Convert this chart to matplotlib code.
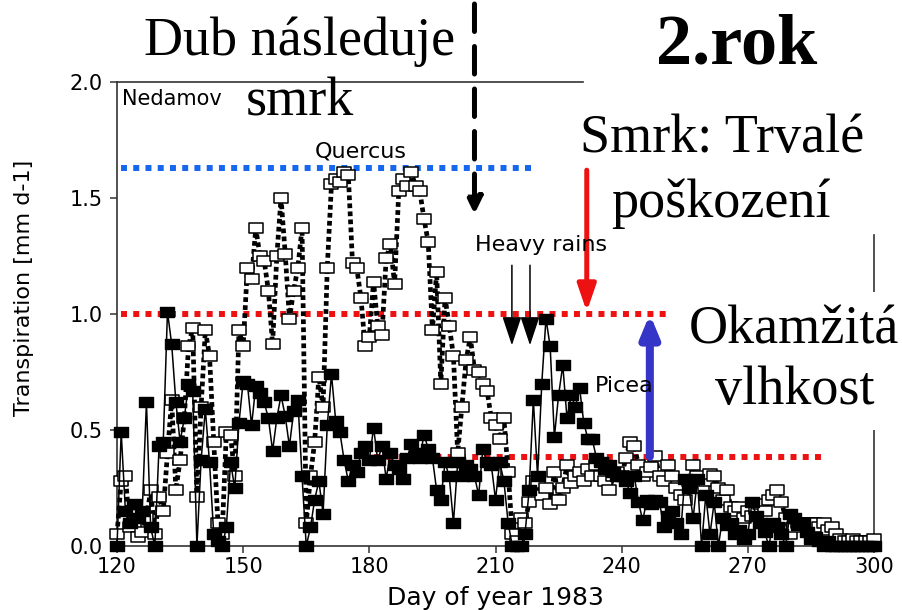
import matplotlib
matplotlib.use('Agg')
import matplotlib.pyplot as plt
from matplotlib.path import Path

# ---------------- data ----------------
days = list(range(120, 301))

quercus = [
    0.05, 0.28, 0.30, 0.08, 0.10, 0.04, 0.06, 0.12, 0.24, 0.05,   # 120-129
    0.21, 0.15, 0.40, 0.63, 0.24, 0.37, 0.55, 0.86, 0.94, 0.21,   # 130-139
    0.60, 0.93, 0.82, 0.45, 0.10, 0.05, 0.49, 0.48, 0.30, 0.93,   # 140-149
    0.86, 1.20, 1.15, 1.37, 1.25, 1.23, 1.10, 0.87, 1.25, 1.50,   # 150-159
    1.26, 0.98, 1.10, 1.20, 1.37, 0.10, 0.30, 0.45, 0.73, 0.60,   # 160-169
    1.20, 1.56, 1.58, 1.57, 1.61, 1.60, 1.22, 1.20, 1.07, 0.86,   # 170-179
    0.90, 1.14, 0.95, 0.91, 1.24, 1.30, 1.13, 1.53, 1.58, 1.55,   # 180-189
    1.61, 1.55, 1.53, 1.41, 1.31, 0.93, 1.18, 0.70, 1.07, 0.95,   # 190-199
    0.82, 0.40, 0.60, 0.80, 0.90, 0.76, 0.75, 0.70, 0.67, 0.55,   # 200-209
    0.52, 0.46, 0.55, 0.32, 0.05, 0.02, 0.12, 0.10, 0.19, 0.28,   # 210-219
    0.27, 0.22, 0.25, 0.18, 0.32, 0.20, 0.25, 0.35, 0.27, 0.30,   # 220-229
    0.32, 0.28, 0.33, 0.30, 0.35, 0.30, 0.28, 0.24, 0.30, 0.32,   # 230-239
    0.30, 0.38, 0.45, 0.43, 0.35, 0.30, 0.32, 0.34, 0.39, 0.30,   # 240-249
    0.28, 0.35, 0.30, 0.25, 0.22, 0.20, 0.28, 0.35, 0.30, 0.25,   # 250-259
    0.28, 0.31, 0.30, 0.25, 0.20, 0.24, 0.17, 0.15, 0.17, 0.12,   # 260-269
    0.15, 0.13, 0.16, 0.18, 0.15, 0.20, 0.22, 0.24, 0.19, 0.12,   # 270-279
    0.05, 0.08, 0.10, 0.10, 0.10, 0.10, 0.10, 0.08, 0.10, 0.07,   # 280-289
    0.08, 0.05, 0.03, 0.02, 0.02, 0.03, 0.02, 0.02, 0.02, 0.02,   # 290-299
    0.03,                                                         # 300
]

picea = [
    0.00, 0.49, 0.15, 0.10, 0.18, 0.12, 0.15, 0.62, 0.08, 0.00,   # 120-129
    0.43, 0.45, 1.01, 0.87, 0.62, 0.45, 0.55, 0.70, 0.67, 0.00,   # 130-139
    0.37, 0.59, 0.36, 0.05, 0.02, 0.00, 0.08, 0.36, 0.25, 0.53,   # 140-149
    0.71, 0.70, 0.52, 0.69, 0.66, 0.62, 0.55, 0.41, 0.55, 0.65,   # 150-159
    0.56, 0.43, 0.58, 0.63, 0.30, 0.00, 0.08, 0.20, 0.28, 0.14,   # 160-169
    0.52, 0.74, 0.54, 0.49, 0.37, 0.28, 0.35, 0.32, 0.40, 0.43,   # 170-179
    0.37, 0.51, 0.37, 0.43, 0.29, 0.40, 0.35, 0.33, 0.29, 0.38,   # 180-189
    0.44, 0.40, 0.38, 0.48, 0.42, 0.38, 0.24, 0.20, 0.36, 0.30,   # 190-199
    0.10, 0.36, 0.30, 0.35, 0.33, 0.30, 0.22, 0.42, 0.36, 0.35,   # 200-209
    0.20, 0.36, 0.28, 0.10, 0.00, 0.00, 0.00, 0.05, 0.24, 0.63,   # 210-219
    0.30, 0.70, 0.98, 0.86, 0.47, 0.65, 0.78, 0.55, 0.65, 0.60,   # 220-229
    0.68, 0.53, 0.46, 0.46, 0.38, 0.36, 0.33, 0.35, 0.32, 0.30,   # 230-239
    0.30, 0.28, 0.23, 0.30, 0.19, 0.11, 0.20, 0.18, 0.20, 0.19,   # 240-249
    0.08, 0.13, 0.15, 0.10, 0.05, 0.29, 0.25, 0.12, 0.29, 0.00,   # 250-259
    0.22, 0.05, 0.19, 0.00, 0.12, 0.09, 0.10, 0.05, 0.07, 0.03,   # 260-269
    0.05, 0.19, 0.13, 0.10, 0.06, 0.00, 0.10, 0.08, 0.05, 0.00,   # 270-279
    0.14, 0.12, 0.09, 0.10, 0.06, 0.03, 0.04, 0.02, 0.00, 0.02,   # 280-289
    0.00, 0.00, 0.00, 0.00, 0.00, 0.00, 0.00, 0.00, 0.00, 0.00,   # 290-299
    0.00,                                                         # 300
]

x_ticks = [120, 150, 180, 210, 240, 270, 300]
y_ticks = [0.0, 0.5, 1.0, 1.5, 2.0]
y_tick_labels = ['0.0', '0.5', '1.0', '1.5', '2.0']

# reference levels drawn as dotted lines: (level, start day, end day)
blue_level = (1.63, 121, 219.5)
red_upper = (1.0, 121, 250.5)
red_lower = (0.385, 178.2, 288)

# arrows
oak_arrow_day = 205          # "Dub nasleduje smrk" dashed arrow
oak_arrow_tip = 1.43
rain_days = [213.9, 218.2]   # heavy rains
rain_top, rain_tip = 1.21, 0.865
red_arrow = (231.7, 1.62, 1.01)    # day, start, tip
blue_arrow = (246.7, 0.385, 1.0)   # day, start, tip

RED = '#ee1111'
BLUE = '#1666ee'
PURPLE = '#3535c8'

# ---------------- figure ----------------
W, H = 902, 610
fig = plt.figure(figsize=(W / 100, H / 100), dpi=100)
ax = fig.add_axes([117 / W, 1 - 546 / H, (874 - 117) / W, (546 - 82) / H])


def fx(px):
    return px / W


def fy(py):
    return 1 - py / H


rect = Path([(-1, -0.68), (1, -0.68), (1, 0.68), (-1, 0.68), (-1, -0.68)],
            [Path.MOVETO, Path.LINETO, Path.LINETO, Path.LINETO, Path.CLOSEPOLY])

# reference lines
for (lvl, d0, d1), col in [(blue_level, BLUE), (red_upper, RED), (red_lower, RED)]:
    ax.plot([d0, d1], [lvl, lvl], color=col, lw=4.3, linestyle=(0, (1, 1.05)),
            solid_capstyle='butt', zorder=2)

# series
ax.plot(days, quercus, color='black', lw=3.4, linestyle=(0, (1, 0.7)),
        marker=rect, ms=10, mfc='white', mec='black', mew=1.1,
        clip_on=False, zorder=3)
ax.plot(days, picea, color='black', lw=1.1, linestyle='-',
        marker=rect, ms=10.5, mfc='black', mec='black', mew=1.0,
        clip_on=False, zorder=4)

ax.set_xlim(120, 300)
ax.set_ylim(0, 2.0)
ax.set_xticks(x_ticks)
ax.set_yticks(y_ticks)
ax.set_yticklabels(y_tick_labels)

for s in ax.spines.values():
    s.set_color('#333333')
    s.set_linewidth(1.2)
ax.spines['top'].set_bounds(120, 230.8)
ax.spines['right'].set_bounds(0, 1.34)

ax.tick_params(axis='both', direction='out', length=5, width=1.1, color='#333333',
               labelsize=15, labelcolor='black')
ax.tick_params(axis='x', pad=3)
ax.tick_params(axis='y', pad=5)
ax.tick_params(top=False, right=False)

ax.set_xlabel('Day of year 1983', fontsize=18, family='DejaVu Sans')
ax.xaxis.label.set_va('baseline')
ax.xaxis.set_label_coords(0.5, (546 - 605) / 464)
ax.set_ylabel('Transpiration [mm d-1]', fontsize=16, family='DejaVu Sans')
ax.yaxis.label.set_va('center')
ax.yaxis.set_label_coords((24 - 117) / 757, (546 - 288) / 464)

# arrows
ax.annotate('', xy=(oak_arrow_day, oak_arrow_tip), xycoords='data',
            xytext=(oak_arrow_day, fy(4)), textcoords=('data', 'figure fraction'),
            arrowprops=dict(arrowstyle='-|>,head_length=10,head_width=4.8', mutation_scale=1,
                            lw=3.6, linestyle=(0, (5.5, 3.0)), color='black',
                            shrinkA=0, shrinkB=0),
            annotation_clip=False)
for d in rain_days:
    ax.annotate('', xy=(d, rain_tip), xytext=(d, rain_top),
                arrowprops=dict(arrowstyle='-|>,head_length=18,head_width=6', mutation_scale=1,
                                lw=1.1, color='black', shrinkA=0, shrinkB=0))
ax.annotate('', xy=(red_arrow[0], red_arrow[2]), xytext=(red_arrow[0], red_arrow[1]),
            arrowprops=dict(arrowstyle='-|>,head_length=16,head_width=5.5', mutation_scale=1,
                            lw=3.6, color=RED, shrinkA=0, shrinkB=0), annotation_clip=False)
ax.annotate('', xy=(blue_arrow[0], blue_arrow[2]), xytext=(blue_arrow[0], blue_arrow[1]),
            arrowprops=dict(arrowstyle='-|>,head_length=13,head_width=5.4', mutation_scale=1,
                            lw=5.8, color=PURPLE, shrinkA=0, shrinkB=0), annotation_clip=False)

# small sans labels
sans = 'DejaVu Sans'
fig.text(fx(122), fy(105), 'Nedamov', ha='left', va='baseline', fontsize=15, family=sans)
fig.text(fx(361), fy(157), 'Quercus', ha='center', va='baseline', fontsize=16, family=sans)
fig.text(fx(475), fy(251), 'Heavy rains', ha='left', va='baseline', fontsize=16, family=sans)
fig.text(fx(595), fy(392), 'Picea', ha='left', va='baseline', fontsize=16, family=sans)

# large serif annotations
serif = 'Liberation Serif'
fig.text(fx(300), fy(55), 'Dub následuje', ha='center', va='baseline', fontsize=39, family=serif)
fig.text(fx(300), fy(116), 'smrk', ha='center', va='baseline', fontsize=39, family=serif)
fig.text(fx(737), fy(64), '2.rok', ha='center', va='baseline', fontsize=52, family=serif,
         fontweight='bold')
fig.text(fx(722), fy(152), 'Smrk: Trvalé', ha='center', va='baseline', fontsize=39, family=serif)
fig.text(fx(721), fy(217), 'poškození', ha='center', va='baseline', fontsize=39, family=serif)
box = dict(facecolor='white', edgecolor='none', boxstyle='square,pad=0.25')
fig.text(fx(794), fy(344), 'Okamžitá', ha='center', va='baseline', fontsize=39, family=serif,
         bbox=box)
fig.text(fx(795), fy(404), 'vlhkost', ha='center', va='baseline', fontsize=39, family=serif,
         bbox=box)

fig.savefig('out.png', dpi=100, facecolor='white')
